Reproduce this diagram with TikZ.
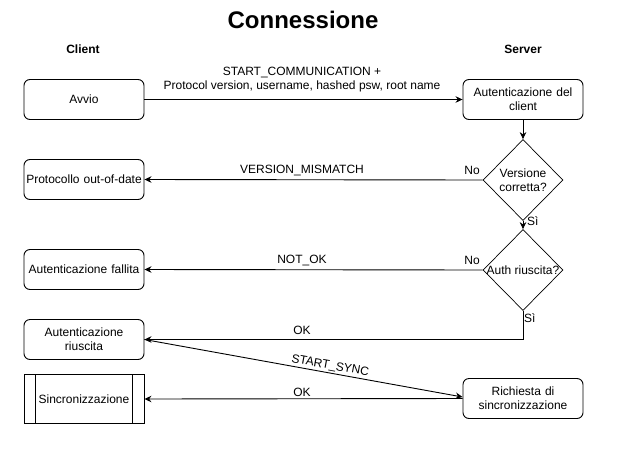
\documentclass[tikz,border=0pt]{standalone}
\usepackage{fontspec}
\setmainfont{Liberation Sans}
\usetikzlibrary{shapes.geometric,arrows.meta}
\begin{document}
\begin{tikzpicture}[x=1pt,y=-1pt,
  every node/.style={font=\fontsize{12}{14.4}\selectfont},
  box/.style={draw, rounded corners=6pt, line width=0.9pt, minimum width=120pt, minimum height=40pt, inner sep=1pt, align=center, text width=118pt},
  dia/.style={draw, diamond, line width=0.7pt, minimum width=80pt, minimum height=81pt, inner sep=0pt},
  arr/.style={line width=0.9pt, -{Stealth[length=7pt,width=6.5pt]}},
  lbl/.style={inner sep=0pt, align=center}
]
\useasboundingbox (0,0) rectangle (623,453);
\node[lbl, font=\fontsize{24}{27}\selectfont\bfseries] (title) at (303,20) {Connessione};
\node[lbl, font=\fontsize{12}{14}\selectfont\bfseries] (client) at (83,49) {Client};
\node[lbl, font=\fontsize{12}{14}\selectfont\bfseries] (server) at (523,49) {Server};

\node[box] (avvio) at (84,99.5) {Avvio};
\node[box] (auth) at (523,99.5) {Autenticazione del\\client};
\node[box] (proto) at (84,179.5) {Protocollo out-of-date};
\node[box] (fall) at (84,269.5) {Autenticazione fallita};
\node[box] (riusc) at (84,339.5) {Autenticazione\\riuscita};
\node[draw, line width=0.9pt, minimum width=120pt, minimum height=49pt, inner sep=0pt] (sinc) at (84,399) {Sincronizzazione};
\draw[line width=0.9pt] ([xshift=12pt]sinc.north west) -- ([xshift=12pt]sinc.south west);
\draw[line width=0.9pt] ([xshift=-12pt]sinc.north east) -- ([xshift=-12pt]sinc.south east);
\node[box] (rich) at (523,398.5) {Richiesta di\\sincronizzazione};

\node[dia] (d1) at (523,180) {};
\node[lbl] (d1t) at (d1) {Versione\\corretta?};
\node[dia] (d2) at (523,270) {};
\node[lbl] (d2t) at (d2) {Auth riuscita?};

\draw[arr] (avvio.east) -- (auth.west);
\node[lbl] (l1) at (302,79.5) {START\_COMMUNICATION +\\Protocol version, username, hashed psw, root name};
\draw[arr] (auth.south) -- (d1.north);
\draw[arr] (d1.west) -- (proto.east);
\node[lbl] (l2) at (302,170) {VERSION\_MISMATCH};
\node[lbl] (no1) at (472,170) {No};
\draw[arr] (d1.south) -- (d2.north);
\node[lbl, anchor=west] (si1) at (527,221) {Sì};
\draw[arr] (d2.west) -- (fall.east);
\node[lbl] (l3) at (302,260) {NOT\_OK};
\node[lbl] (no2) at (472,260) {No};
\draw[arr] (d2.south) |- (riusc.east);
\node[lbl, anchor=west] (si2) at (524,318) {Sì};
\node[lbl] (l4) at (302,330) {OK};
\draw[arr] (riusc.east) -- node[sloped, above, inner sep=1pt, pos=0.58] (l5) {START\_SYNC} ([yshift=1.5pt]rich.west);
\draw[arr] (rich.west) -- (sinc.east);
\node[lbl] (l6) at (302,392) {OK};
\end{tikzpicture}
\end{document}
